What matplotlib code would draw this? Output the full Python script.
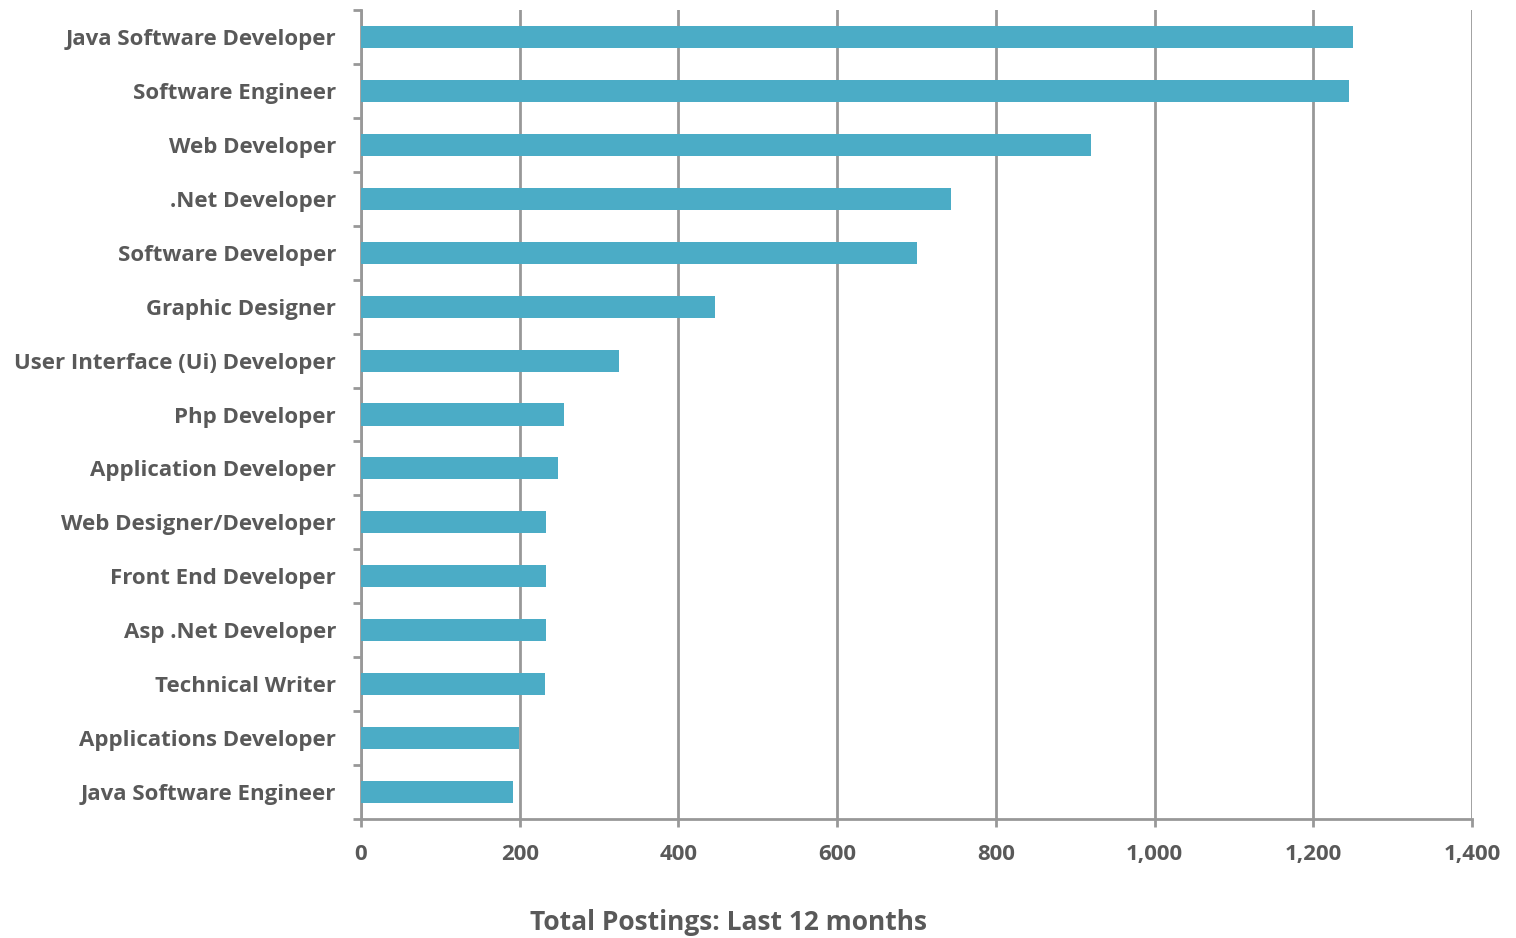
import numpy as np
import matplotlib.pyplot as plt

# Data
jobs = ["Java Software Developer", "Software Engineer", "Web Developer",
        ".Net Developer", "Software Developer", "Graphic Designer",
        "User Interface (Ui) Developer", "Php Developer", "Application Developer",
        "Web Designer/Developer", "Front End Developer", "Asp .Net Developer",
        "Technical Writer", "Applications Developer", "Java Software Engineer"]
postings = [1250, 1245, 920, 743, 700, 446, 325, 256, 248, 233, 233, 233, 232, 199, 191]
xticks = [0, 200, 400, 600, 800, 1000, 1200, 1400]

grey = "#595959"
line_grey = "#989898"
plt.rcParams["font.family"] = ["Open Sans", "DejaVu Sans"]

fig = plt.figure(figsize=(15.16, 9.38), dpi=100)
ax = fig.add_axes([361 / 1516, 1 - 819 / 938, (1472 - 361) / 1516, (819 - 10) / 938])

y = np.arange(len(jobs))
ax.barh(y, postings, height=0.41, color="#4BACC6", zorder=3)

ax.set_xlim(0, 1400)
ax.set_ylim(len(jobs) - 0.5, -0.5)
ax.set_xticks(xticks)
ax.set_xticklabels([f"{v:,}" for v in xticks], fontsize=16, fontweight="bold", color=grey)
ax.set_yticks(y)
ax.set_yticklabels(jobs, fontsize=16, fontweight="bold", color=grey)
ax.set_yticks(np.arange(len(jobs) + 1) - 0.5, minor=True)

ax.tick_params(axis="y", which="major", length=0, pad=18)
ax.tick_params(axis="y", which="minor", length=6, width=2, color=line_grey, direction="out")
ax.tick_params(axis="x", length=6, width=2, color=line_grey, direction="out", pad=12)

ax.grid(axis="x", color=line_grey, linewidth=2, zorder=0)
for s in ["top", "right"]:
    ax.spines[s].set_visible(False)
for s in ["left", "bottom"]:
    ax.spines[s].set_color(line_grey)
    ax.spines[s].set_linewidth(2)

fig.text(729 / 1516, 1 - 922 / 938, "Total Postings: Last 12 months",
         ha="center", va="center", fontsize=19, fontweight="bold", color=grey)

fig.savefig("out.png", dpi=100)
